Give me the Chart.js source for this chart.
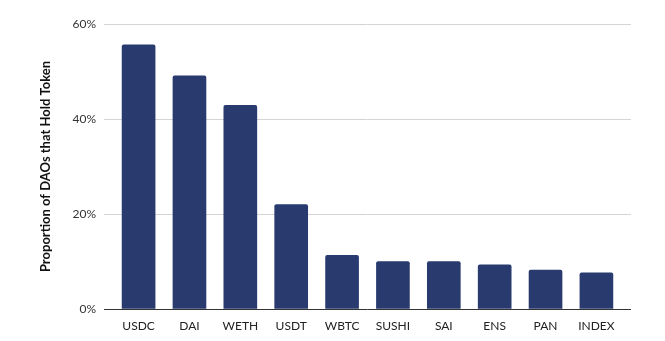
<!DOCTYPE html>
<html>
<head>
<meta charset="utf-8">
<script src="https://cdn.jsdelivr.net/npm/chart.js@4/dist/chart.umd.min.js"></script>
<style>
html,body{margin:0;padding:0;background:#fff;}
#wrap{width:665px;height:341px;position:relative;}
</style>
</head>
<body>
<div id="wrap"><canvas id="c" width="665" height="341"></canvas></div>
<script>
const categories = ["USDC","DAI","WETH","USDT","WBTC","SUSHI","SAI","ENS","PAN","INDEX"];
const shareValues = [55.6, 49.1, 42.9, 22.0, 11.3, 10.0, 10.0, 9.3, 8.2, 7.6];
const yTickValues = [0, 20, 40, 60];

const points = categories.map((c, i) => ({x: i, y: shareValues[i]}));

new Chart(document.getElementById('c'), {
  type: 'bar',
  data: {
    datasets: [{
      data: points,
      backgroundColor: '#293a6f',
      borderRadius: 2,
      borderSkipped: 'bottom',
      barThickness: 33
    }]
  },
  options: {
    responsive: false,
    animation: false,
    devicePixelRatio: 1,
    layout: {padding: {left: 0, right: 34, top: 24, bottom: 8}},
    plugins: {legend: {display: false}, tooltip: {enabled: false}},
    scales: {
      x: {
        type: 'linear',
        offset: false,
        min: -0.68,
        max: 9.68,
        afterBuildTicks: s => { s.ticks = categories.map((_, i) => ({value: i})); },
        afterFit: s => { s.height = 24; },
        grid: {display: false, drawTicks: false},
        border: {display: false},
        ticks: {
          callback: v => categories[v],
          color: '#222',
          font: {family: 'Lato', size: 12},
          padding: 10,
          maxRotation: 0,
          autoSkip: false
        }
      },
      y: {
        min: 0,
        max: 60,
        afterBuildTicks: s => { s.ticks = yTickValues.map(v => ({value: v})); },
        afterFit: s => { s.width = 104; },
        grid: {
          color: c => c.tick && c.tick.value === 0 ? '#333' : '#d4d4d4',
          lineWidth: 1,
          drawTicks: false
        },
        border: {display: false},
        ticks: {
          callback: v => v + '%',
          color: '#333',
          font: {family: 'Lato', size: 12},
          padding: 8
        },
        title: {
          display: true,
          text: 'Proportion of DAOs that Hold Token',
          color: '#111',
          font: {family: 'Lato', size: 13, weight: 'bold'},
          padding: {top: 38, bottom: 0}
        }
      }
    }
  }
});
</script>
</body>
</html>
